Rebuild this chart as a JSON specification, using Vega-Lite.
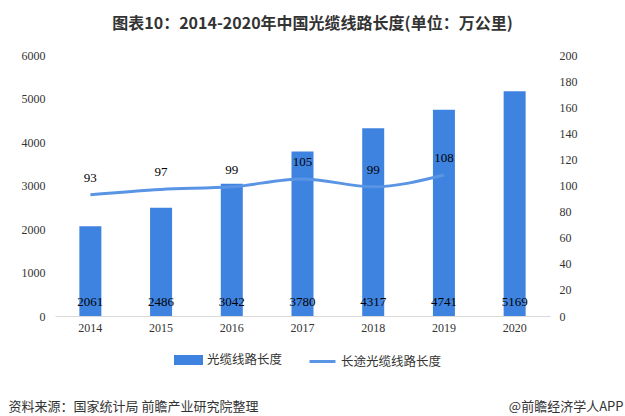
{
  "$schema": "https://vega.github.io/schema/vega-lite/v6.json",
  "width": 495,
  "height": 261,
  "autosize": {"type": "none"},
  "padding": {"left": 55, "top": 55, "right": 75, "bottom": 100},
  "background": "#ffffff",
  "title": {
    "text": "图表10：2014-2020年中国光缆线路长度(单位：万公里)",
    "font": "Noto Sans CJK SC",
    "fontSize": 16,
    "fontWeight": "bold",
    "color": "#333333",
    "anchor": "middle",
    "frame": "group",
    "baseline": "middle",
    "dx": 10,
    "offset": 9
  },
  "data": {
    "values": [
      {"year": "2014", "fiber": 2061, "longhaul": 93},
      {"year": "2015", "fiber": 2486, "longhaul": 97},
      {"year": "2016", "fiber": 3042, "longhaul": 99},
      {"year": "2017", "fiber": 3780, "longhaul": 105},
      {"year": "2018", "fiber": 4317, "longhaul": 99},
      {"year": "2019", "fiber": 4741, "longhaul": 108},
      {"year": "2020", "fiber": 5169, "longhaul": null}
    ]
  },
  "config": {
    "view": {"stroke": null},
    "axis": {
      "labelFont": "Liberation Serif",
      "labelFontSize": 12,
      "labelColor": "#333333",
      "labelOverlap": false,
      "grid": false,
      "ticks": false,
      "domain": false,
      "titleFont": "Noto Sans CJK SC",
      "titleFontSize": 13,
      "titleColor": "#333333",
      "titleFontWeight": "normal"
    }
  },
  "encoding": {
    "x": {
      "field": "year",
      "type": "ordinal",
      "scale": {"paddingInner": 0, "paddingOuter": 0},
      "axis": {
        "labelAngle": 0,
        "domain": true,
        "domainColor": "#d9d9d9",
        "labelPadding": 6,
        "title": "资料来源：国家统计局 前瞻产业研究院整理",
        "titleX": -47,
        "titleY": 90,
        "titleAlign": "left",
        "titleBaseline": "middle",
        "titleAngle": 0
      }
    }
  },
  "layer": [
    {
      "layer": [
        {
          "mark": {"type": "bar", "width": 22},
          "encoding": {
            "y": {
              "field": "fiber",
              "type": "quantitative",
              "scale": {"domain": [0, 6000]},
              "axis": {"values": [0, 1000, 2000, 3000, 4000, 5000, 6000], "format": "d", "title": null, "labelPadding": 10}
            },
            "color": {
              "datum": "光缆线路长度",
              "type": "nominal",
              "scale": {"domain": ["光缆线路长度", "长途光缆线路长度"], "range": ["#3f83e0", "#5a95e5"]},
              "legend": {
                "orient": "none",
                "direction": "horizontal",
                "legendX": 119,
                "legendY": 290,
                "title": null,
                "labelFont": "Noto Sans CJK SC",
                "labelFontSize": 12.5,
                "labelColor": "#333333",
                "symbolSize": 676,
                "labelOffset": 4,
                "columnPadding": 20,
                "encode": {
                  "symbols": {
                    "update": {
                      "shape": {"signal": "datum.value === '光缆线路长度' ? 'M-1,-0.27H1V0.27H-1Z' : 'M-1,0H1'"},
                      "fill": {"signal": "datum.value === '光缆线路长度' ? '#3f83e0' : 'transparent'"},
                      "stroke": {"signal": "datum.value === '光缆线路长度' ? 'transparent' : '#5a95e5'"},
                      "strokeWidth": {"value": 3},
                      "size": {"value": 676},
                      "opacity": {"value": 1}
                    }
                  }
                }
              }
            }
          }
        },
        {
          "mark": {"type": "text", "font": "Liberation Serif", "fontSize": 13, "baseline": "middle", "dy": -14, "color": "#000000"},
          "encoding": {
            "y": {
              "datum": 0,
              "type": "quantitative",
              "axis": {"values": [0, 1000, 2000, 3000, 4000, 5000, 6000], "format": "d", "title": null, "labelPadding": 10}
            },
            "text": {"field": "fiber", "type": "quantitative", "format": "d"}
          }
        }
      ]
    },
    {
      "transform": [{"filter": "datum.longhaul != null"}],
      "layer": [
        {
          "mark": {"type": "line", "strokeWidth": 3, "interpolate": "monotone"},
          "encoding": {
            "y": {
              "field": "longhaul",
              "type": "quantitative",
              "scale": {"domain": [0, 200]},
              "axis": {
                "orient": "right",
                "values": [0, 20, 40, 60, 80, 100, 120, 140, 160, 180, 200],
                "format": "d",
                "labelPadding": 9,
                "title": "@前瞻经济学人APP",
                "titleAngle": 0,
                "titleX": 73,
                "titleY": 351,
                "titleAlign": "right",
                "titleBaseline": "middle"
              }
            },
            "color": {"datum": "长途光缆线路长度", "type": "nominal"}
          }
        },
        {
          "mark": {"type": "text", "font": "Liberation Serif", "fontSize": 13, "baseline": "middle", "dy": -17, "color": "#000000"},
          "encoding": {
            "y": {
              "field": "longhaul",
              "type": "quantitative",
              "axis": {
                "orient": "right",
                "values": [0, 20, 40, 60, 80, 100, 120, 140, 160, 180, 200],
                "format": "d",
                "labelPadding": 9,
                "title": "@前瞻经济学人APP",
                "titleAngle": 0,
                "titleX": 73,
                "titleY": 351,
                "titleAlign": "right",
                "titleBaseline": "middle"
              }
            },
            "text": {"field": "longhaul", "type": "quantitative"}
          }
        }
      ]
    }
  ],
  "resolve": {"scale": {"y": "independent"}}
}
